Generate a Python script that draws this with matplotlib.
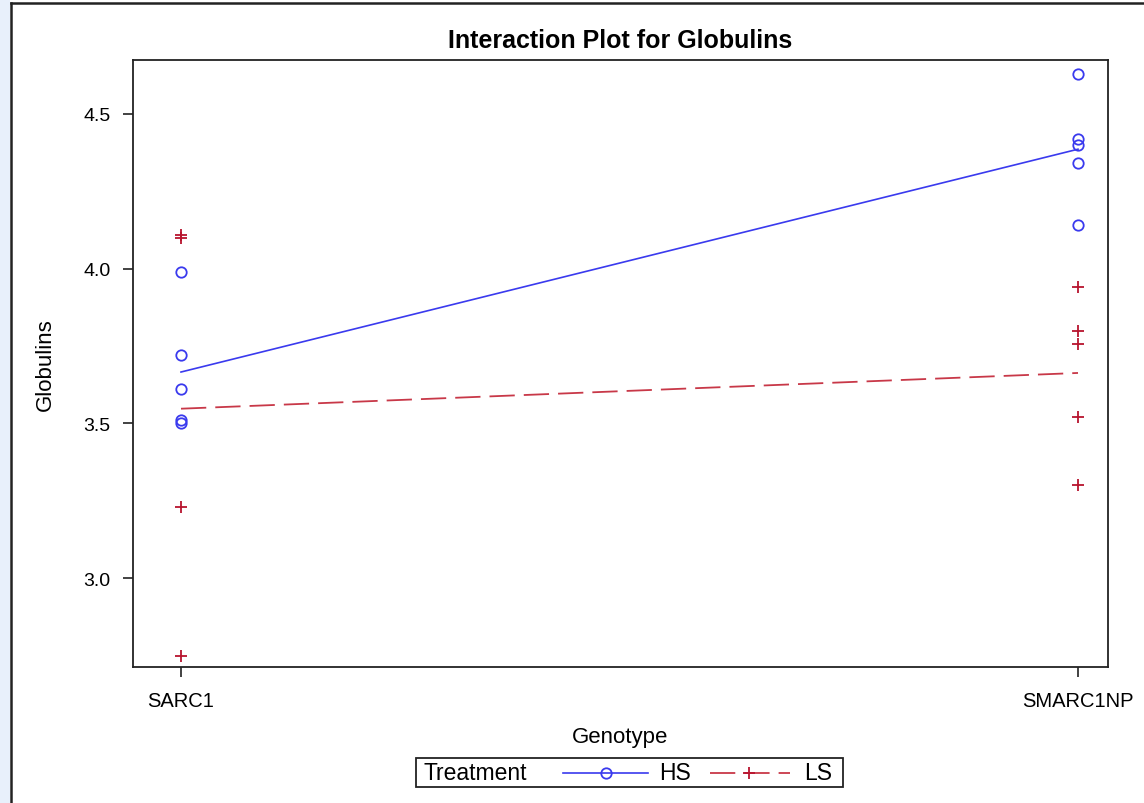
import matplotlib
matplotlib.use("Agg")
import matplotlib.pyplot as plt
from matplotlib.lines import Line2D
from matplotlib.patches import Rectangle
import numpy as np

plt.rcParams['font.family'] = ['Liberation Sans', 'DejaVu Sans']

genotypes = ["SARC1", "SMARC1NP"]
hs_sarc1 = [3.99, 3.72, 3.61, 3.51, 3.50]
hs_smarc = [4.63, 4.42, 4.40, 4.34, 4.14]
ls_sarc1 = [4.11, 4.10, 3.23, 2.75]
ls_smarc = [3.94, 3.80, 3.755, 3.52, 3.30]
yticks = [3.0, 3.5, 4.0, 4.5]

blue = '#3a3aee'
red = '#b8142e'
red_line = '#c83848'

W, H = 1144, 804
fig = plt.figure(figsize=(W / 100, H / 100), dpi=100)
fig.patch.set_facecolor('white')

# light blue strip on the left edge and outer frame
fig.add_artist(Rectangle((0, 0), 10 / W, 1, transform=fig.transFigure,
                         facecolor='#e8f0fb', edgecolor='none'))
fig.add_artist(Line2D([11 / W, 11 / W], [0, 1 - 4 / H], transform=fig.transFigure,
                      color='#222222', lw=1.8))
fig.add_artist(Line2D([11 / W, 1], [1 - 4 / H, 1 - 4 / H], transform=fig.transFigure,
                      color='#222222', lw=1.8))

ax = fig.add_axes([133 / W, 1 - 668 / H, (1108 - 133) / W, (668 - 61) / H])

xpos = [0, 1]
ax.plot([xpos[0]] * len(hs_sarc1), hs_sarc1, linestyle='none', marker='o',
        mfc='none', mec=blue, ms=7.5, mew=1.3)
ax.plot([xpos[1]] * len(hs_smarc), hs_smarc, linestyle='none', marker='o',
        mfc='none', mec=blue, ms=7.5, mew=1.3)
ax.plot([xpos[0]] * len(ls_sarc1), ls_sarc1, linestyle='none', marker='+',
        color=red, ms=8.5, mew=1.3)
ax.plot([xpos[1]] * len(ls_smarc), ls_smarc, linestyle='none', marker='+',
        color=red, ms=8.5, mew=1.3)

hs_means = [np.mean(hs_sarc1), np.mean(hs_smarc)]
ls_means = [np.mean(ls_sarc1), np.mean(ls_smarc)]
ax.plot(xpos, hs_means, color=blue, lw=1.2)
ax.plot(xpos, ls_means, color=red_line, lw=1.3, linestyle=(0, (14, 5)))

ax.set_xlim(-48 / 897, 1 + 30 / 897)
ax.set_ylim(3.0 - 89 / 310, 4.5 + 54 / 310)
ax.set_xticks(xpos)
ax.set_xticklabels(genotypes, fontsize=14.5)
ax.set_yticks(yticks)
ax.set_yticklabels([f"{v:.1f}" for v in yticks], fontsize=14)
ax.tick_params(length=7, width=1.2, color='#222222')
ax.tick_params(axis='y', pad=9)
ax.tick_params(axis='x', pad=10)
for s in ax.spines.values():
    s.set_linewidth(1.3)
    s.set_color('#222222')

ax.set_xlabel("Genotype", fontsize=16, labelpad=12)
ax.set_ylabel("Globulins", fontsize=16, labelpad=20)
ax.set_title("Interaction Plot for Globulins", fontsize=18, fontweight='bold', pad=9)

# legend box drawn in figure pixel coordinates
def fx(px):
    return px / W

def fy(py):
    return 1 - py / H

fig.add_artist(Rectangle((fx(416), fy(788)), (843 - 416) / W, (788 - 759) / H,
                         transform=fig.transFigure, facecolor='white',
                         edgecolor='#222222', lw=1.3))
fig.text(fx(424), fy(774), "Treatment", fontsize=16.5, va='center', ha='left')
fig.add_artist(Line2D([fx(563), fx(648)], [fy(774), fy(774)], transform=fig.transFigure,
                      color=blue, lw=1.2))
fig.add_artist(Line2D([fx(606)], [fy(774)], transform=fig.transFigure,
                      color=blue, marker='o', mfc='none', mec=blue, ms=7.5, mew=1.3))
fig.text(fx(659), fy(774), "HS", fontsize=16.5, va='center', ha='left')
fig.add_artist(Line2D([fx(710), fx(790)], [fy(774), fy(774)], transform=fig.transFigure,
                      color=red_line, lw=1.3, linestyle=(0, (14, 5))))
fig.add_artist(Line2D([fx(749)], [fy(774)], transform=fig.transFigure,
                      color=red, marker='+', ms=8.5, mew=1.3))
fig.text(fx(804), fy(774), "LS", fontsize=16.5, va='center', ha='left')

fig.savefig("out.png", dpi=100)
